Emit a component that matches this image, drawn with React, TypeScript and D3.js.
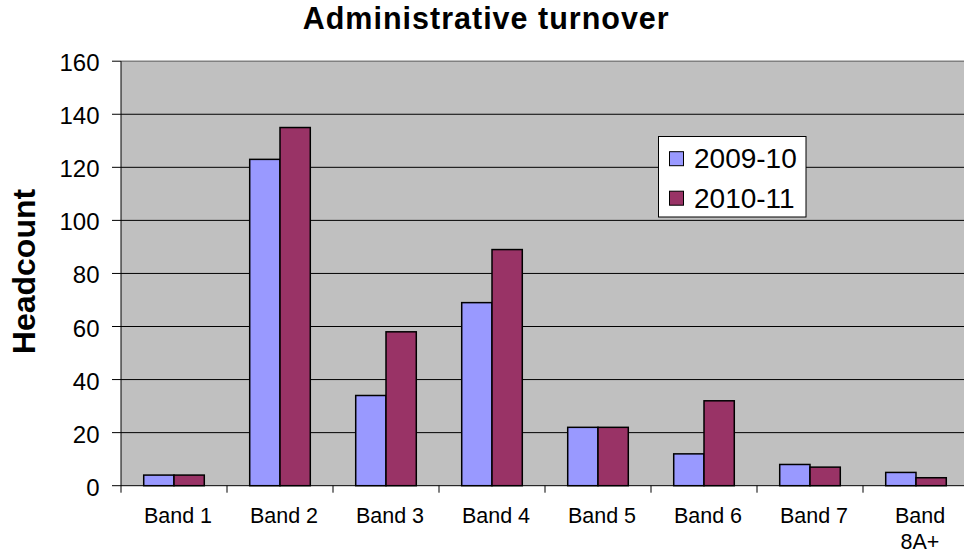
import React from "react";
import * as d3 from "d3";

const categories = ["Band 1", "Band 2", "Band 3", "Band 4", "Band 5", "Band 6", "Band 7", "Band 8A+"];
const series2009 = [4, 123, 34, 69, 22, 12, 8, 5];
const series2010 = [4, 135, 58, 89, 22, 32, 7, 3];
const seriesNames = ["2009-10", "2010-11"];
const yTicks = [0, 20, 40, 60, 80, 100, 120, 140, 160];

const W = 964, H = 556;
const left = 121, right = 969, top = 61.2, bottom = 485.7;
const colors = ["#9999FF", "#993366"];
const font = "'Liberation Sans', Arial, sans-serif";

export default function App() {
  const x = d3.scaleBand<string>().domain(categories).range([left, right]).paddingInner(0).paddingOuter(0);
  const y = d3.scaleLinear().domain([0, 160]).range([bottom, top]);
  const bw = x.bandwidth();
  const barW = bw / 3.5;
  const gap = (bw - 2 * barW) / 2;
  const series = [series2009, series2010];

  return (
    <svg width={W} height={H} style={{ position: "absolute", left: 0, top: 0, background: "#fff" }} fontFamily={font}>
      <rect x={left} y={top} width={right - left} height={bottom - top} fill="#C0C0C0" />
      {yTicks.filter(t => t > 0 && t < 160).map(t => (
        <line key={t} x1={left} x2={right} y1={y(t)} y2={y(t)} stroke="#000" strokeWidth={1} />
      ))}
      <line x1={left} x2={right} y1={top} y2={top} stroke="#808080" strokeWidth={1.5} />
      {categories.map((c, i) =>
        series.map((s, j) => (
          <rect key={c + j} x={(x(c) as number) + gap + j * barW} y={y(s[i])} width={barW} height={bottom - y(s[i])}
            fill={colors[j]} stroke="#000" strokeWidth={1.5} />
        ))
      )}
      <line x1={left} x2={left} y1={top} y2={bottom} stroke="#000" strokeWidth={1} />
      <line x1={left} x2={right} y1={bottom} y2={bottom} stroke="#000" strokeWidth={1} />
      {yTicks.map(t => (
        <g key={t}>
          <line x1={left - 9} x2={left} y1={y(t)} y2={y(t)} stroke="#000" />
          <text x={99.5} y={y(t) + 10} textAnchor="end" fontSize={24}>{t}</text>
        </g>
      ))}
      {categories.map(c => (
        <line key={c} x1={(x(c) as number)} x2={(x(c) as number)} y1={bottom} y2={bottom + 7} stroke="#000" />
      ))}
      {categories.map(c => {
        const cx = (x(c) as number) + bw / 2 + 4;
        const parts = c === "Band 8A+" ? ["Band", "8A+"] : [c];
        return (
          <text key={c} x={cx} y={523} textAnchor="middle" fontSize={21.5}>
            {parts.map((p, k) => <tspan key={k} x={cx} dy={k === 0 ? 0 : 26}>{p}</tspan>)}
          </text>
        );
      })}
      <text x={302.7} y={29.3} fontSize={30.5} fontWeight="bold" textLength={366} lengthAdjust="spacing">Administrative turnover</text>
      <text transform={`translate(35, 271.5) rotate(-90)`} textAnchor="middle" fontSize={32} fontWeight="bold">Headcount</text>
      <g>
        <rect x={658.5} y={136.5} width={147.5} height={80.5} fill="#fff" stroke="#000" strokeWidth={1} />
        {seriesNames.map((n, j) => (
          <g key={n}>
            <rect x={669.5} y={151.7 + j * 39.5} width={14} height={14} fill={colors[j]} stroke="#000" strokeWidth={1} />
            <text x={694} y={168.3 + j * 40} fontSize={28}>{n}</text>
          </g>
        ))}
      </g>
    </svg>
  );
}
